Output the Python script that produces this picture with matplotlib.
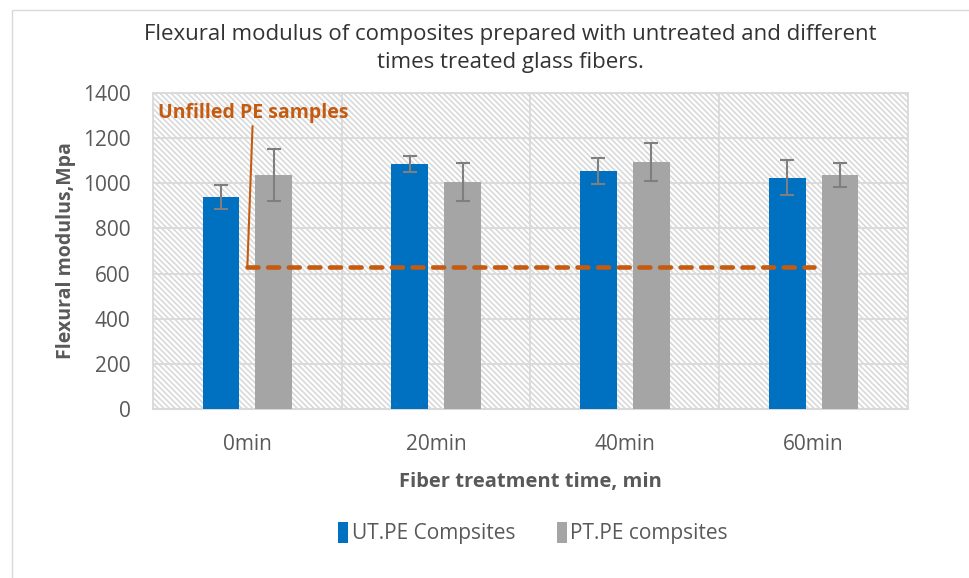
import matplotlib.pyplot as plt
from matplotlib.patches import Rectangle
import numpy as np

categories = ['0min', '20min', '40min', '60min']
ut_values = [940, 1085, 1056, 1025]
ut_errors = [52, 35, 58, 78]
pt_values = [1037, 1006, 1093, 1038]
pt_errors = [115, 84, 84, 53]
unfilled_pe = [630, 630, 630, 630]

BLUE = '#0070C0'
GRAY = '#A5A5A5'
ORANGE = '#C55A11'
TXT = '#595959'
GRID = '#D9D9D9'

plt.rcParams['font.family'] = ['Open Sans', 'DejaVu Sans']
plt.rcParams['hatch.color'] = '#E4E4E4'
plt.rcParams['hatch.linewidth'] = 1.2

fig = plt.figure(figsize=(9.7, 5.78), dpi=100)
ax = fig.add_axes([0.1577, 0.2924, 0.9361 - 0.1577, 0.8391 - 0.2924])

# outer chart frame
fig.patches.append(Rectangle((12 / 970, -0.1), 1.2, 1 - 10 / 578 + 0.1,
                             transform=fig.transFigure, fill=False,
                             edgecolor=GRID, linewidth=1.0, zorder=0))

# hatched plot area
ax.add_patch(Rectangle((0, 0), 1, 1, transform=ax.transAxes, facecolor='white',
                       edgecolor=GRID, hatch='\\' * 6, linewidth=0, zorder=0))

x = np.arange(len(categories))
w = 0.195
off = 0.14
ax.bar(x - off, ut_values, w, color=BLUE, zorder=3, label='UT.PE Compsites')
ax.bar(x + off, pt_values, w, color=GRAY, zorder=3, label='PT.PE compsites')
ax.errorbar(x - off, ut_values, yerr=ut_errors, fmt='none', ecolor='#7F7F7F',
            elinewidth=1.5, capsize=5, capthick=1.5, zorder=4)
ax.errorbar(x + off, pt_values, yerr=pt_errors, fmt='none', ecolor='#7F7F7F',
            elinewidth=1.5, capsize=5, capthick=1.5, zorder=4)

ax.plot(x, unfilled_pe, color=ORANGE, linewidth=3.3, linestyle=(0, (2.4, 2.1)),
        dash_capstyle='round', zorder=5)

ax.set_xlim(-0.5, 3.5)
ax.set_ylim(0, 1400)
ax.set_yticks(range(0, 1401, 200))
ax.set_xticks(x)
ax.set_xticklabels(categories)

for yv in range(200, 1401, 200):
    ax.axhline(yv, color=GRID, linewidth=1.3, zorder=1)
for xv in [0.5, 1.5, 2.5]:
    ax.axvline(xv, color=GRID, linewidth=1.3, zorder=1)
for s in ax.spines.values():
    s.set_color(GRID)
    s.set_linewidth(1.3)
ax.spines['bottom'].set_linewidth(1.5)

ax.tick_params(axis='both', length=0, labelsize=15, colors=TXT)
ax.tick_params(axis='y', pad=16)
ax.tick_params(axis='x', pad=18)

ax.set_ylabel('Flexural modulus,Mpa', fontsize=14, fontweight='bold', color=TXT, labelpad=5)
ax.set_xlabel('Fiber treatment time, min', fontsize=14.5, fontweight='bold', color=TXT, labelpad=12)

fig.text(0.526, 0.916, 'Flexural modulus of composites prepared with untreated and different\n'
         'times treated glass fibers.', ha='center', va='center', fontsize=16,
         color='#333333', linespacing=1.45)

# annotation
ax.annotate('Unfilled PE samples', xy=(0, 630), xytext=(0.03, 1310),
            ha='center', va='center', fontsize=14, fontweight='bold', color=ORANGE,
            arrowprops=dict(arrowstyle='-', color=ORANGE, lw=1.5, shrinkA=0, shrinkB=0),
            zorder=6)

leg = fig.legend(loc='center', bbox_to_anchor=(0.5495, 0.078), ncol=2, frameon=False,
                 fontsize=15, handlelength=0.5, handleheight=1.2, handletextpad=0.15,
                 columnspacing=2.0)
for t in leg.get_texts():
    t.set_color(TXT)

fig.savefig('out.png', dpi=100)
